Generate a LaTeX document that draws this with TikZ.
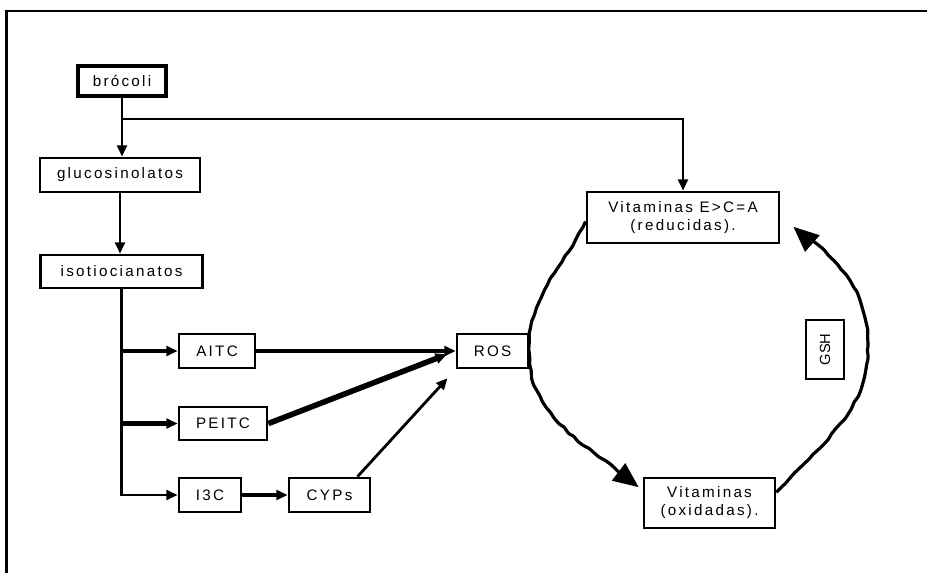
\documentclass[tikz,border=0pt]{standalone}
\usepackage{fontspec}
\setmainfont{Liberation Sans}[LetterSpace=15]
\newfontfamily\gshfont{Liberation Sans}
\usetikzlibrary{arrows.meta,decorations.pathmorphing,calc}
\newcommand\dgfont{\fontsize{11.4pt}{13.5pt}\selectfont}

\tikzset{
  box/.style={draw, line width=2.1pt, inner sep=0pt, align=center, font=\dgfont},
  flow/.style={line width=2.1pt, -{Triangle[length=8.5pt,width=7.5pt]}},
  heavy/.style={flow, line width=3.5pt},
  heavier/.style={flow, line width=4.2pt},
  loopline/.style={line width=2.4pt, -{Triangle[length=19pt,width=16pt]},
    decoration={random steps,segment length=5pt,amplitude=0.65pt},
    rounded corners=0.8pt, decorate}
}

\begin{document}
\begin{tikzpicture}[x=0.75pt,y=0.75pt]
\pgfmathsetseed{7}
\useasboundingbox (0,0) rectangle (927,-573);

% outer frame (left and top edges)
\draw[line width=2.2pt] (6.5,-600) -- (6.5,-11) -- (940,-11);

% boxes (sizes in pt = 0.75 x pixel size)
\node[box, minimum width=66pt, minimum height=22.5pt, line width=2.6pt] (broc) at (122,-81) {brócoli};
\node[box, minimum width=120pt, minimum height=25.5pt] (gluc) at (120,-175) {glucosinolatos};
\node[box, minimum width=122pt, minimum height=24.75pt] (iso) at (121.5,-271.5) {isotiocianatos};
\node[box, minimum width=57pt, minimum height=25.5pt] (aitc) at (217,-351) {AITC};
\node[box, minimum width=66pt, minimum height=24.75pt] (peitc) at (223,-423.5) {PEITC};
\node[box, minimum width=46.5pt, minimum height=25.5pt] (i3c) at (210,-495) {I3C};
\node[box, minimum width=60.75pt, minimum height=25.5pt] (cyps) at (329.5,-495) {CYPs};
\node[box, minimum width=53.25pt, minimum height=25.5pt] (ros) at (492.5,-351) {ROS};
\node[box, minimum width=144pt, minimum height=38.25pt] (red) at (683,-217.5) {Vitaminas E>C=A\\(reducidas).};
\node[box, minimum width=98.25pt, minimum height=37.5pt] (ox) at (709.5,-503) {Vitaminas\\(oxidadas).};
\node[box, minimum width=28.5pt, minimum height=44.25pt, font=\gshfont\fontsize{11pt}{12pt}\selectfont] (gsh) at (825,-349.5) {\rotatebox{90}{GSH}};

% main chain
\coordinate (fork) at (broc.south |- 0,-119);
\draw[flow] (broc.south) -- (broc.south |- gluc.north);
\draw[flow] (fork) -| (red.north);
\draw[flow] (gluc.south) -- (gluc.south |- iso.north);
\draw[flow] (iso.south) |- (i3c.west);
\draw[heavy] (iso.south |- aitc.west) -- (aitc.west);
\draw[heavier] (iso.south |- peitc.west) -- (peitc.west);

% towards ROS
\draw[heavy] (aitc.east) -- (ros.west);
\draw[heavier, shorten >=7pt] (peitc.east) -- (ros.west);
\draw[flow, line width=2.8pt] (i3c.east) -- (cyps.west);
\draw[flow, shorten >=9pt] ([xshift=21pt]cyps.north) -- (ros.south west);

% redox cycle of the vitamins
\coordinate (leftmid) at (529,-350);
\coordinate (rightmid) at (868,-345);
\draw[loopline] ([yshift=-3pt]red.west) to[out=243,in=90] (leftmid)
  to[out=-90,in=140] ([shift={(-3pt,-8pt)}]ox.north west);
\draw[loopline] ([yshift=8pt]ox.east) to[out=48,in=-90] (rightmid)
  to[out=90,in=-35] ([shift={(9.75pt,-7pt)}]red.east);
\end{tikzpicture}
\end{document}
